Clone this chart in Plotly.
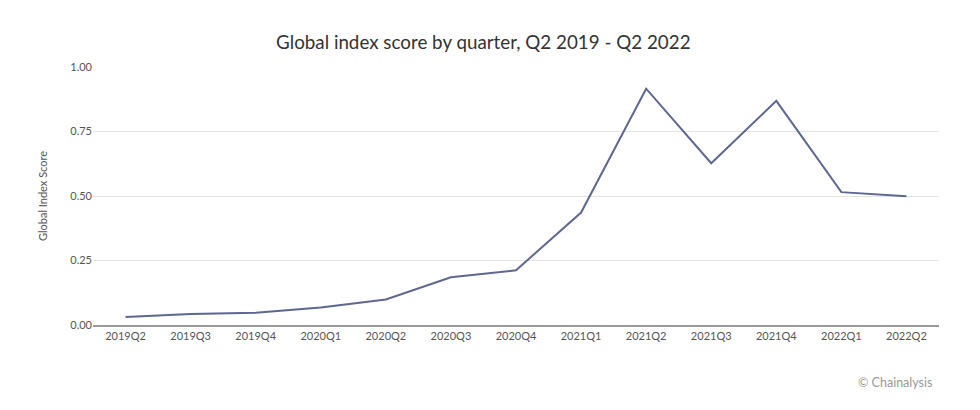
import plotly.graph_objects as go

quarters = ["2019Q2", "2019Q3", "2019Q4", "2020Q1", "2020Q2", "2020Q3", "2020Q4",
            "2021Q1", "2021Q2", "2021Q3", "2021Q4", "2022Q1", "2022Q2"]
scores = [0.031, 0.043, 0.047, 0.068, 0.099, 0.185, 0.212,
          0.436, 0.916, 0.627, 0.869, 0.515, 0.499]
y_ticks = [0, 0.25, 0.5, 0.75, 1.0]

fig = go.Figure()
fig.add_trace(go.Scatter(x=quarters, y=scores, mode="lines",
                         line=dict(color="#5d6792", width=2), showlegend=False))

fig.update_layout(
    width=972, height=402,
    paper_bgcolor="white", plot_bgcolor="white",
    margin=dict(l=85, r=41, t=59, b=85),
    font=dict(family="Lato, Open Sans, sans-serif", color="#555555"),
    title=dict(text="Global index score by quarter, Q2 2019 - Q2 2022",
               x=0.489, xanchor="center", y=0.915, yanchor="middle",
               font=dict(size=18.8, color="#333333")),
    xaxis=dict(type="category", range=[-0.5, 12.5], showgrid=False,
               showline=True, linecolor="#999999", linewidth=2,
               ticks="", tickfont=dict(size=11, color="#555555")),
    yaxis=dict(range=[0, 1.0], tickvals=y_ticks, tickformat=".2f",
               showgrid=True, gridcolor="#e3e3e3", gridwidth=1,
               zeroline=False, showline=False, ticks="",
               tickfont=dict(size=11, color="#555555"),
               title=dict(text="Global Index Score", font=dict(size=11, color="#555555"),
                          standoff=20)),
    annotations=[dict(text="© Chainalysis", xref="paper", yref="paper",
                      x=1.0, y=-0.221, xanchor="right", yanchor="middle", xshift=-5,
                      showarrow=False, font=dict(size=12.5, color="#999999"))],
)
fig.write_html("out.html")
